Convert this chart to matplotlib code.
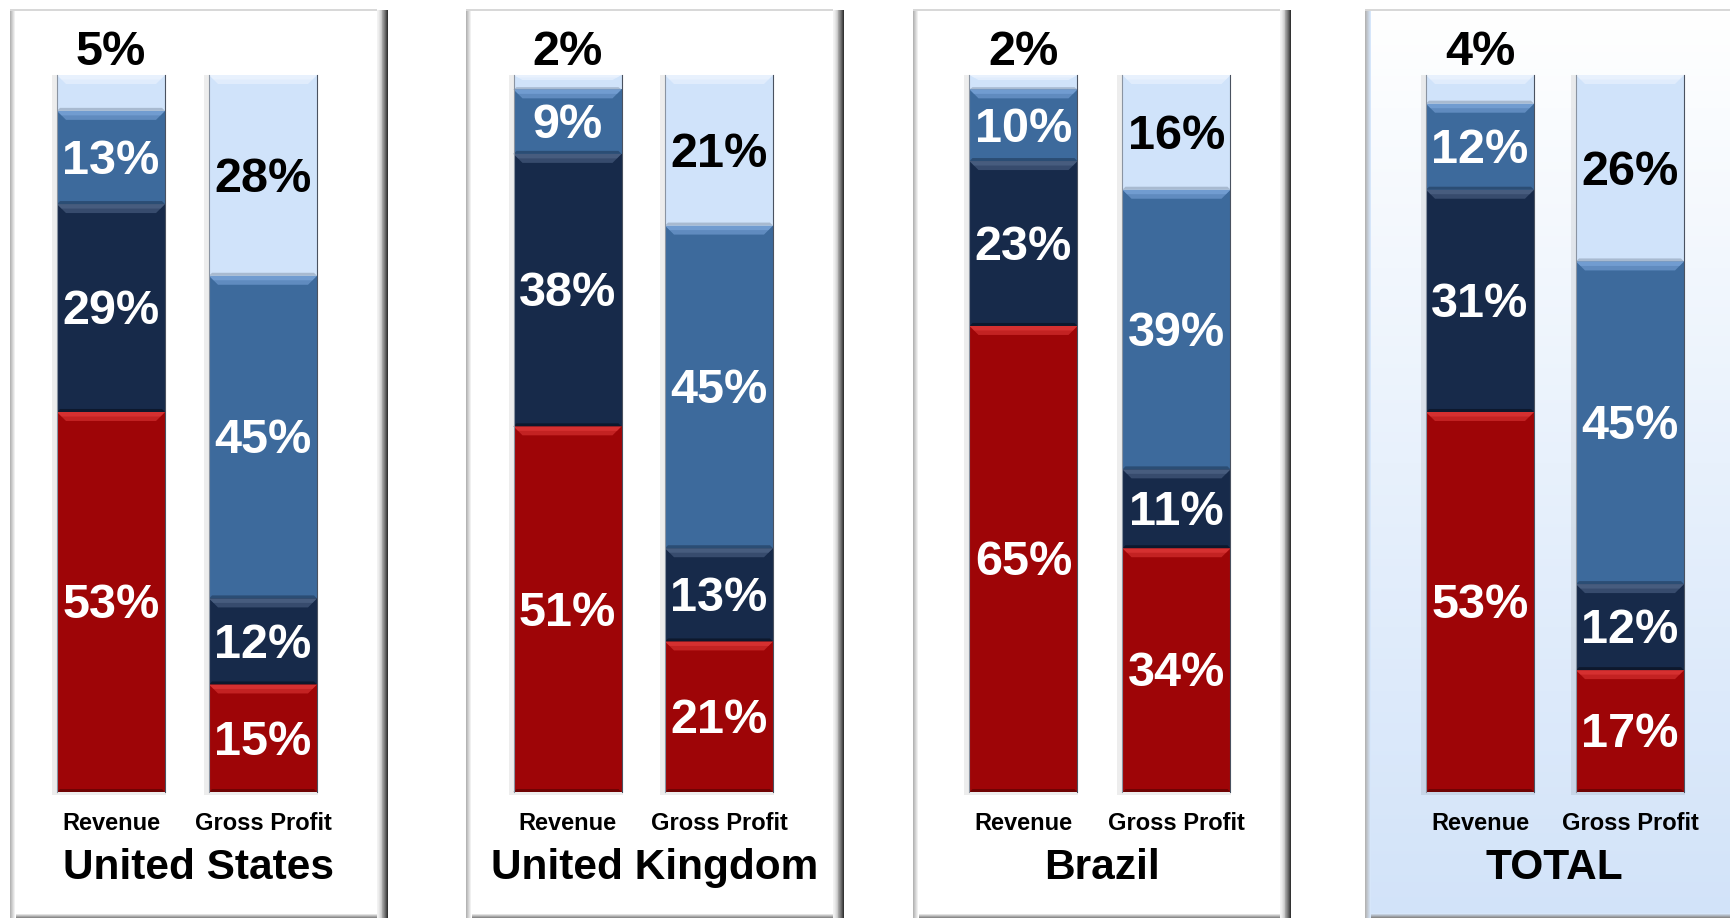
import matplotlib

matplotlib.use("Agg")
import matplotlib.pyplot as plt
import numpy as np
from matplotlib.patches import Polygon, Rectangle
from matplotlib.colors import LinearSegmentedColormap, to_rgb

plt.rcParams["font.family"] = ["Liberation Sans", "DejaVu Sans"]
plt.rcParams["font.weight"] = "bold"

# ---- data (bottom to top: red, navy, mid blue, light blue) ----
regions = ["United States", "United Kingdom", "Brazil", "TOTAL"]
bar_labels = ["Revenue", "Gross Profit"]
revenue = [
    [53, 29, 13, 5],
    [51, 38, 9, 2],
    [65, 23, 10, 2],
    [53, 31, 12, 4],
]
gross_profit = [
    [15, 12, 45, 28],
    [21, 13, 45, 21],
    [34, 11, 39, 16],
    [17, 12, 45, 26],
]

# ---- styles ----
seg_colors = ["#9E0507", "#172A4A", "#3D6A9C", "#D0E3FA"]
seg_hi = ["#E23A3A", "#52688A", "#7DA8DD", "#EEF5FF"]
seg_lo = ["#6A0303", "#0C172A", "#2A4A70", "#A4B6CC"]
seg_text = ["white", "white", "white", "black"]

W_PX, H_PX = 1731, 920
panel_left = [10, 466, 913, 1365]
panel_w = 378
panel_top, panel_bot = 10, 919
bar_centers = [(101, 253), (101.5, 253), (110.5, 263.5), (115, 265)]
bar_w = 108
bar_top_px, bar_bot_px = 76, 793
ppu = (bar_bot_px - bar_top_px) / 100.0  # pixels per percent


def px2pct(y_px):
    return (bar_bot_px - y_px) / ppu


fig = plt.figure(figsize=(W_PX / 100, H_PX / 100), dpi=100)
fig.patch.set_facecolor("white")


def draw_frame(ax, total=False):
    W = panel_w
    H = panel_bot - panel_top
    if total:
        cmap = LinearSegmentedColormap.from_list("bg", ["#FFFFFF", "#E8F1FC", "#D2E3F9"])
        grad = np.linspace(0, 1, 256).reshape(-1, 1)
        ax.imshow(grad, cmap=cmap, extent=[0, 1, 0, 1], transform=ax.transAxes,
                  aspect="auto", zorder=0)
        base = "#D6E6FA"
    else:
        ax.add_patch(Rectangle((0, 0), 1, 1, transform=ax.transAxes,
                               facecolor="white", edgecolor="none", zorder=0))
        base = "#FFFFFF"
    tr = ax.transAxes
    # right dark bevel
    n = 12
    c0, c1 = np.array(to_rgb("#F2F2F2")), np.array(to_rgb("#333333"))
    for i in range(n):
        f = i / (n - 1)
        col = c0 + (c1 - c0) * f ** 1.5
        x0 = 1 - 11 / W + i * (11 / W) / n
        ax.add_patch(Rectangle((x0, 0), 11 / W / n + 0.001, 1 - 1 / H, transform=tr,
                               facecolor=col, edgecolor="none", zorder=1))
    # left light bevel
    c0, c1 = np.array(to_rgb("#B4B4B4")), np.array(to_rgb(base))
    for i in range(6):
        f = i / 5
        col = c0 + (c1 - c0) * f
        ax.add_patch(Rectangle((i / W, 0), 1 / W + 0.0005, 1, transform=tr,
                               facecolor=col, edgecolor="none", zorder=1))
    # bottom bevel
    c0, c1 = np.array(to_rgb("#8A8A8A")), np.array(to_rgb(base))
    for i in range(5):
        f = i / 4
        col = c0 + (c1 - c0) * f
        ax.add_patch(Rectangle((6 / W, i / H), 1 - 17 / W, 1 / H + 0.0002, transform=tr,
                               facecolor=col, edgecolor="none", zorder=1))
    # top thin line
    ax.add_patch(Rectangle((0, 1 - 2 / H), 1 - 11 / W, 2 / H, transform=tr,
                           facecolor="#D8D8D8", edgecolor="none", zorder=1))


def draw_stack(ax, xc, values):
    x0, x1 = xc - bar_w / 2, xc + bar_w / 2
    bottoms = np.concatenate([[0], np.cumsum(values)[:-1]])
    # soft shadow
    ax.bar(xc - 2, 100.4, width=bar_w + 6, bottom=-0.4, color="#000000", alpha=0.07, zorder=2)
    ax.bar([xc] * len(values), values, width=bar_w, bottom=bottoms,
           color=seg_colors, edgecolor="none", zorder=3)
    bev_px = 9
    hb = bev_px / ppu
    for v, b, hi, lo in zip(values, bottoms, seg_hi, seg_lo):
        top = b + v
        h = min(hb, v * 0.35)
        # soft top bevel in two steps
        ax.add_patch(Polygon([(x0, top), (x1, top), (x1 - bev_px, top - h), (x0 + bev_px, top - h)],
                             closed=True, facecolor=hi, edgecolor="none", alpha=0.55, zorder=4))
        ax.add_patch(Polygon([(x0, top), (x1, top), (x1 - bev_px / 2, top - h / 2),
                              (x0 + bev_px / 2, top - h / 2)],
                             closed=True, facecolor=hi, edgecolor="none", alpha=0.6, zorder=4))
        hl = min(3 / ppu, v * 0.15)
        ax.add_patch(Polygon([(x0, b), (x1, b), (x1 - 3, b + hl), (x0 + 3, b + hl)],
                             closed=True, facecolor=lo, edgecolor="none", alpha=0.9, zorder=4))
    # thin side edges
    ax.plot([x0, x0], [0, 100], color="#8A94A2", lw=0.8, zorder=5)
    ax.plot([x1, x1], [0, 100], color="#4A5260", lw=0.8, zorder=5)
    return bottoms


for i, region in enumerate(regions):
    left = panel_left[i]
    ax = fig.add_axes([left / W_PX, (H_PX - panel_bot) / H_PX,
                       panel_w / W_PX, (panel_bot - panel_top) / H_PX])
    ax.set_axis_off()
    draw_frame(ax, total=(region == "TOTAL"))

    for j, series in enumerate([revenue[i], gross_profit[i]]):
        xc = bar_centers[i][j]
        bottoms = draw_stack(ax, xc, series)
        for k, (v, b) in enumerate(zip(series, bottoms)):
            if v < 6:
                ax.text(xc, px2pct(53), f"{v}%", ha="center", va="center",
                        fontsize=35, fontweight="bold", color="black", zorder=6)
            else:
                ax.text(xc, b + v / 2 - 0.4, f"{v}%", ha="center", va="center",
                        fontsize=35, fontweight="bold", color=seg_text[k], zorder=6)
        ax.text(xc, px2pct(824), bar_labels[j], ha="center", va="center",
                fontsize=17, fontweight="bold", color="black", zorder=6)

    ax.text(panel_w / 2, px2pct(868), region, ha="center", va="center",
            fontsize=30.5, fontweight="bold", color="black", zorder=6)

    ax.set_xlim(0, panel_w)
    ax.set_ylim(px2pct(panel_bot), px2pct(panel_top))

fig.savefig("out.png", dpi=100, facecolor="white")
